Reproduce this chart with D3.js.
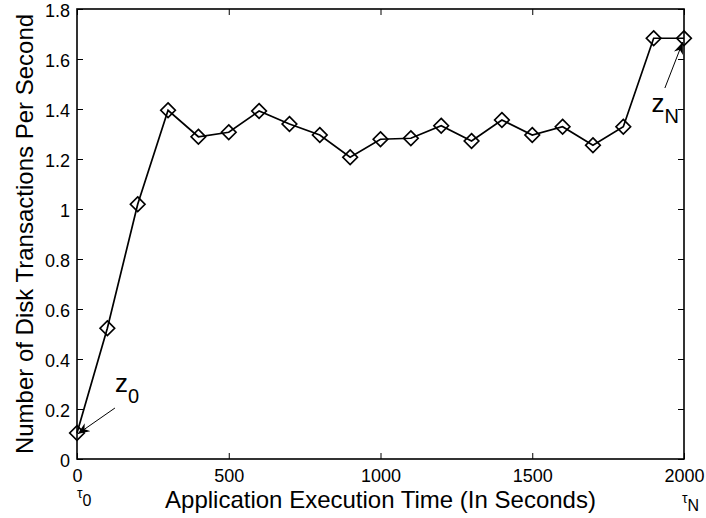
<!DOCTYPE html>
<html>
<head>
<meta charset="utf-8">
<script src="https://cdn.jsdelivr.net/npm/d3@7"></script>
<style>
  html, body { margin: 0; padding: 0; background: #fff; }
  svg text { font-family: "Liberation Sans", Arial, Helvetica, sans-serif; fill: #000; }
</style>
</head>
<body>
<div id="chart"></div>
<script>
// execution time (s) and disk transactions per second
const times = [0, 100, 200, 300, 400, 500, 600, 700, 800, 900, 1000,
               1100, 1200, 1300, 1400, 1500, 1600, 1700, 1800, 1900, 2000];
const rates = [0.104, 0.523, 1.019, 1.395, 1.289, 1.307, 1.392, 1.340, 1.296, 1.207, 1.279,
               1.283, 1.333, 1.272, 1.356, 1.296, 1.329, 1.255, 1.329, 1.683, 1.683];

const xTicks = [0, 500, 1000, 1500, 2000];
const xTickLabels = ["0", "500", "1000", "1500", "2000"];
const yTicks = [0, 0.2, 0.4, 0.6, 0.8, 1, 1.2, 1.4, 1.6, 1.8];
const yTickLabels = ["0", "0.2", "0.4", "0.6", "0.8", "1", "1.2", "1.4", "1.6", "1.8"];

// annotations, in data units: [tail, tip] and text anchor
const z0Arrow = [[125, 0.204], [2, 0.1]];
const z0Text = [125, 0.268];
const zNArrow = [[1937, 1.484], [1996, 1.668]];
const zNText = [1893, 1.388];

const width = 706, height = 518;
const margin = {top: 9, right: 22, bottom: 59, left: 77};

const svg = d3.select("#chart").append("svg")
    .attr("width", width)
    .attr("height", height);

svg.append("rect").attr("width", width).attr("height", height).attr("fill", "#fff");

const x = d3.scaleLinear()
    .domain([0, 2000])
    .range([margin.left, width - margin.right]);

const y = d3.scaleLinear()
    .domain([0, 1.8])
    .range([height - margin.bottom, margin.top]);

const tick = 6;

// bottom axis with labels
svg.append("g")
    .attr("transform", `translate(0,${y(0)})`)
    .call(d3.axisBottom(x).tickValues(xTicks)
        .tickFormat((d, i) => xTickLabels[i])
        .tickSizeInner(-tick).tickSizeOuter(0).tickPadding(10))
    .call(g => g.select(".domain").remove())
    .call(g => g.selectAll("text").style("font-size", "18px"));

// left axis with labels
svg.append("g")
    .attr("transform", `translate(${x(0)},0)`)
    .call(d3.axisLeft(y).tickValues(yTicks)
        .tickFormat((d, i) => yTickLabels[i])
        .tickSizeInner(-tick).tickSizeOuter(0).tickPadding(7))
    .call(g => g.select(".domain").remove())
    .call(g => g.selectAll("text").style("font-size", "18px").attr("dy", "0.42em"));

// top and right: ticks only
svg.append("g")
    .attr("transform", `translate(0,${y(1.8)})`)
    .call(d3.axisTop(x).tickValues(xTicks).tickFormat("")
        .tickSizeInner(-tick).tickSizeOuter(0))
    .call(g => g.select(".domain").remove());

svg.append("g")
    .attr("transform", `translate(${x(2000)},0)`)
    .call(d3.axisRight(y).tickValues(yTicks).tickFormat("")
        .tickSizeInner(-tick).tickSizeOuter(0))
    .call(g => g.select(".domain").remove());

svg.selectAll(".tick line").attr("stroke", "#000").attr("stroke-width", 1);

// box
svg.append("rect")
    .attr("x", x(0))
    .attr("y", y(1.8))
    .attr("width", x(2000) - x(0))
    .attr("height", y(0) - y(1.8))
    .attr("fill", "none")
    .attr("stroke", "#000")
    .attr("stroke-width", 1.6);

// series
const pts = times.map((t, i) => [t, rates[i]]);

svg.append("path")
    .datum(pts)
    .attr("fill", "none")
    .attr("stroke", "#000")
    .attr("stroke-width", 1.7)
    .attr("d", d3.line().x(d => x(d[0])).y(d => y(d[1])));

svg.append("g")
    .selectAll("path")
    .data(pts)
    .join("path")
        .attr("transform", d => `translate(${x(d[0])},${y(d[1])})`)
        .attr("d", d3.symbol(d3.symbolDiamond2, 135))
        .attr("fill", "none")
        .attr("stroke", "#000")
        .attr("stroke-width", 1.7);

// axis titles
svg.append("text")
    .attr("x", (x(0) + x(2000)) / 2)
    .attr("y", 508)
    .attr("text-anchor", "middle")
    .style("font-size", "24px")
    .text("Application Execution Time (In Seconds)");

svg.append("text")
    .attr("transform", `translate(33,${(y(0) + y(1.8)) / 2}) rotate(-90)`)
    .attr("text-anchor", "middle")
    .style("font-size", "24px")
    .text("Number of Disk Transactions Per Second");

// tau labels under the first and last ticks
function tau(xv, sub, anchorX, base) {
    const t = svg.append("text")
        .attr("x", x(xv) + anchorX)
        .attr("y", base)
        .style("font-size", "14px");
    t.append("tspan").text("\u03c4");
    t.append("tspan").attr("dy", 8).style("font-size", "16px").text(sub);
}
tau(0, "0", 0, 498);
tau(2000, "N", -2, 503);

// arrows
svg.append("defs").append("marker")
    .attr("id", "head")
    .attr("viewBox", "0 0 10 10")
    .attr("refX", 10).attr("refY", 5)
    .attr("markerWidth", 12).attr("markerHeight", 12)
    .attr("markerUnits", "userSpaceOnUse")
    .attr("orient", "auto")
  .append("path")
    .attr("d", "M0,1L10,5L0,9L3,5Z")
    .attr("fill", "#000");

[z0Arrow, zNArrow].forEach(a => {
    svg.append("line")
        .attr("x1", x(a[0][0])).attr("y1", y(a[0][1]))
        .attr("x2", x(a[1][0])).attr("y2", y(a[1][1]))
        .attr("stroke", "#000")
        .attr("stroke-width", 1)
        .attr("marker-end", "url(#head)");
});

function zLabel(pos, sub) {
    const t = svg.append("text")
        .attr("x", x(pos[0]))
        .attr("y", y(pos[1]))
        .style("font-size", "26px");
    t.append("tspan").text("z");
    t.append("tspan").attr("dy", 11).style("font-size", "20px").text(sub);
}
zLabel(z0Text, "0");
zLabel(zNText, "N");
</script>
</body>
</html>
